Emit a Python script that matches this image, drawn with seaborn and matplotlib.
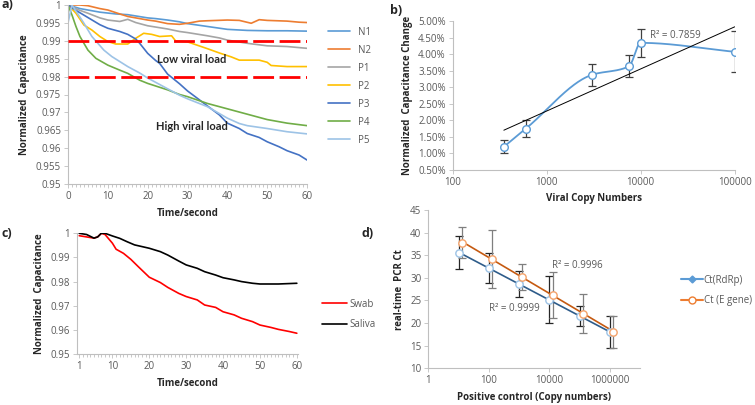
import numpy as np
import pandas as pd
import matplotlib
matplotlib.use("Agg")
import matplotlib.pyplot as plt
from matplotlib.ticker import FuncFormatter, MultipleLocator, NullLocator
from matplotlib.lines import Line2D
import seaborn as sns

# --- a) normalized capacitance, negatives vs positives ---
names_a = ["N1", "N2", "P1", "P2", "P3", "P4", "P5"]
colors_a = ["#5B9BD5", "#ED7D31", "#A5A5A5", "#FFC000", "#4472C4", "#70AD47", "#9DC3E6"]

n1_t = [0, 3, 8, 12, 15, 20, 22, 25, 28, 30, 35, 40, 45, 50, 55, 60]
n1_v = [1.0, 0.999, 0.998, 0.9975, 0.9973, 0.9964, 0.9962, 0.9958, 0.9953, 0.9948, 0.994, 0.9932, 0.9929, 0.9928, 0.9928, 0.9927]
n2_t = [0, 3, 5, 8, 10, 13, 15, 18, 20, 22, 25, 28, 30, 33, 35, 40, 43, 46, 48, 50, 55, 58, 60]
n2_v = [1.0, 1.0, 0.9998, 0.999, 0.9986, 0.9975, 0.9968, 0.9962, 0.9958, 0.9955, 0.9948, 0.9946, 0.9949, 0.9955, 0.9956, 0.9958, 0.9957, 0.9949, 0.9959, 0.9957, 0.9955, 0.9952, 0.9951]
p1_t = [0, 3, 5, 8, 10, 13, 15, 17, 20, 25, 28, 30, 35, 38, 40, 45, 50, 55, 60]
p1_v = [1.0, 0.9985, 0.9977, 0.9964, 0.9958, 0.9954, 0.996, 0.9951, 0.9942, 0.9933, 0.9926, 0.9923, 0.9914, 0.9908, 0.9902, 0.9893, 0.9886, 0.9884, 0.9879]
p2_t = [0, 2, 4, 6, 8, 10, 12, 15, 17, 19, 21, 23, 26, 27, 30, 35, 38, 41, 43, 45, 48, 50, 51, 55, 60]
p2_v = [1.0, 0.9977, 0.9944, 0.993, 0.9912, 0.9898, 0.9891, 0.9891, 0.9907, 0.9921, 0.9918, 0.9912, 0.9914, 0.99, 0.9897, 0.9878, 0.9866, 0.9855, 0.9846, 0.9846, 0.9846, 0.984, 0.9831, 0.9828, 0.9828]
p3_t = [0, 2, 5, 8, 10, 13, 15, 17, 18, 20, 22, 23, 25, 28, 30, 33, 35, 38, 40, 43, 45, 48, 50, 53, 55, 58, 60]
p3_v = [1.0, 0.9985, 0.9965, 0.9945, 0.9935, 0.9926, 0.9918, 0.9905, 0.9893, 0.9865, 0.9845, 0.9837, 0.9807, 0.978, 0.976, 0.9735, 0.9718, 0.9693, 0.967, 0.9655, 0.9641, 0.963, 0.9618, 0.9604, 0.9593, 0.9581, 0.9567]
p4_t = [0, 1, 2, 3, 5, 7, 10, 13, 15, 18, 20, 25, 28, 30, 35, 40, 45, 50, 55, 60]
p4_v = [1.0, 0.9972, 0.994, 0.9912, 0.9874, 0.9851, 0.9832, 0.9818, 0.9809, 0.979, 0.9781, 0.9763, 0.975, 0.9744, 0.9725, 0.971, 0.9695, 0.968, 0.967, 0.9663]
p5_t = [0, 1, 4, 6, 9, 11, 13, 15, 18, 20, 25, 28, 30, 35, 40, 43, 45, 50, 55, 60]
p5_v = [0.995, 1.0, 0.9949, 0.9912, 0.9874, 0.9856, 0.9842, 0.9828, 0.981, 0.9796, 0.9766, 0.9748, 0.9738, 0.9716, 0.9684, 0.9669, 0.9663, 0.9655, 0.9646, 0.964]
thresholds_a = [0.99, 0.98]

# --- b) capacitance change vs viral copies ---
b_copies = [350, 600, 3000, 7500, 10000, 100000]
b_change = [1.2, 1.75, 3.37, 3.63, 4.34, 4.07]
b_err = [0.2, 0.25, 0.32, 0.33, 0.42, 0.62]

# --- c) swab vs saliva ---
swab_t = [1, 3, 5, 6, 7, 8, 10, 11, 13, 15, 17, 20, 23, 25, 28, 30, 33, 35, 38, 40, 43, 45, 48, 50, 53, 55, 58, 60]
swab_v = [0.999, 0.9985, 0.998, 0.9985, 1.0, 0.9995, 0.9959, 0.9934, 0.9917, 0.9892, 0.9862, 0.9818, 0.9796, 0.9776, 0.9751, 0.9738, 0.9724, 0.9703, 0.9693, 0.9675, 0.9662, 0.9648, 0.9634, 0.962, 0.961, 0.9602, 0.9593, 0.9586]
saliva_t = [1, 3, 5, 6, 7, 8, 10, 12, 14, 16, 20, 23, 25, 28, 30, 33, 35, 38, 40, 43, 45, 48, 50, 55, 60]
saliva_v = [1.0, 0.9995, 0.998, 0.9985, 1.0, 1.0, 0.9989, 0.9979, 0.9965, 0.9952, 0.9938, 0.9924, 0.991, 0.9885, 0.9869, 0.9855, 0.9841, 0.9827, 0.9816, 0.9807, 0.98, 0.9793, 0.979, 0.979, 0.9793]

# --- d) PCR Ct vs positive control ---
d_copies_rdrp = [10, 100, 1000, 10000, 100000, 1000000]
d_ct_rdrp = [35.6, 32.2, 28.6, 25.2, 21.6, 18.0]
d_err_rdrp = [3.7, 3.4, 2.9, 5.1, 2.2, 3.6]
d_copies_egene = [13, 130, 1300, 13000, 130000, 1300000]
d_ct_egene = [37.8, 34.2, 30.2, 26.2, 22.1, 18.1]
d_err_egene = [3.45, 6.4, 2.8, 5.0, 4.3, 3.55]

AX_COLOR = "#BFBFBF"
TICK_COLOR = "#595959"
LABEL_COLOR = "#262626"


def excel_axes(ax):
    for s in ["top", "right"]:
        ax.spines[s].set_visible(False)
    for s in ["left", "bottom"]:
        ax.spines[s].set_color(AX_COLOR)
        ax.spines[s].set_linewidth(0.8)
    ax.tick_params(axis="both", which="both", direction="out", color=AX_COLOR,
                   labelcolor=TICK_COLOR, labelsize=7, length=3, width=0.6,
                   left=True, bottom=True, pad=2)
    ax.tick_params(which="minor", length=2.5)
    ax.grid(False)


def pchip_curve(xk, yk, n=300):
    # smooth line like Excel's "smoothed line" option
    xk = np.asarray(xk, float)
    yk = np.asarray(yk, float)
    h = np.diff(xk)
    d = np.diff(yk) / h
    m = np.zeros_like(yk)
    m[0], m[-1] = d[0], d[-1]
    for i in range(1, len(xk) - 1):
        if d[i - 1] * d[i] > 0:
            w1 = 2 * h[i] + h[i - 1]
            w2 = h[i] + 2 * h[i - 1]
            m[i] = (w1 + w2) / (w1 / d[i - 1] + w2 / d[i])
    xs = np.linspace(xk[0], xk[-1], n)
    idx = np.clip(np.searchsorted(xk, xs) - 1, 0, len(h) - 1)
    s = (xs - xk[idx]) / h[idx]
    h00 = 2 * s**3 - 3 * s**2 + 1
    h10 = s**3 - 2 * s**2 + s
    h01 = -2 * s**3 + 3 * s**2
    h11 = s**3 - s**2
    ys = h00 * yk[idx] + h10 * h[idx] * m[idx] + h01 * yk[idx + 1] + h11 * h[idx] * m[idx + 1]
    return xs, ys


sns.set_theme(style="white")
plt.rcParams["font.family"] = ["Open Sans", "DejaVu Sans"]
plt.rcParams["font.size"] = 7

fig = plt.figure(figsize=(7.55, 4.05), dpi=100)
W, H = 755, 405

# ---------- a) ----------
ax_a = fig.add_axes([68 / W, 1 - 184 / H, 239 / W, 179 / H])
series_a = [(n1_t, n1_v), (n2_t, n2_v), (p1_t, p1_v), (p2_t, p2_v),
            (p3_t, p3_v), (p4_t, p4_v), (p5_t, p5_v)]
df_a = pd.concat([pd.DataFrame({"t": t, "v": v, "s": name})
                  for name, (t, v) in zip(names_a, series_a)], ignore_index=True)
sns.lineplot(data=df_a, x="t", y="v", hue="s", hue_order=names_a, palette=colors_a,
             estimator=None, linewidth=1.2, ax=ax_a, legend=False)
for lvl in thresholds_a:
    ax_a.axhline(lvl, color="#FF0000", lw=2, ls=(0, (7.5, 2)), zorder=5)
ax_a.text(31, 0.9848, "Low viral load", ha="center", va="center", fontsize=8,
          family=["Lato", "DejaVu Sans"], fontweight="bold", color=LABEL_COLOR)
ax_a.text(31, 0.966, "High viral load", ha="center", va="center", fontsize=8,
          family=["Lato", "DejaVu Sans"], fontweight="bold", color=LABEL_COLOR)
ax_a.set_xlim(0, 60)
ax_a.set_ylim(0.95, 1.0)
ax_a.set_yticks(np.round(np.arange(0.95, 1.0001, 0.005), 3))
ax_a.yaxis.set_major_formatter(FuncFormatter(lambda v, _: f"{v:g}"))
ax_a.xaxis.set_major_locator(MultipleLocator(10))
ax_a.xaxis.set_minor_locator(MultipleLocator(1))
excel_axes(ax_a)
ax_a.set_xlabel("Time/second", fontsize=7, fontweight="bold", color=LABEL_COLOR)
ax_a.set_ylabel("Normalized  Capacitance", fontsize=7, fontweight="bold", color=LABEL_COLOR)
handles_a = [Line2D([], [], color=c, lw=1.2) for c in colors_a]
fig.legend(handles_a, names_a, loc="upper left", bbox_to_anchor=(319 / W, 1 - 18 / H),
           frameon=False, fontsize=7, handlelength=2.3, handletextpad=0.8,
           labelspacing=0.72, labelcolor=TICK_COLOR)

# ---------- b) ----------
ax_b = fig.add_axes([452.7 / W, 1 - 170 / H, 282 / W, 149 / H])
ax_b.set_xscale("log")
ax_b.errorbar(b_copies, b_change, yerr=b_err, fmt="none", ecolor="#404040",
              elinewidth=0.9, capsize=3, capthick=0.9, zorder=2)
xs_b, ys_b = pchip_curve(np.log10(b_copies), b_change)
ax_b.plot(10**xs_b, ys_b, color="#5B9BD5", lw=1.3, zorder=3)
coef_b = np.polyfit(np.log10(b_copies), b_change, 1)
xt_b = np.array([min(b_copies), max(b_copies)])
ax_b.plot(xt_b, np.polyval(coef_b, np.log10(xt_b)), color="black", lw=0.7, zorder=4)
sns.scatterplot(x=b_copies, y=b_change, ax=ax_b, marker="o", s=30, color="white",
                edgecolor="#5B9BD5", linewidth=1, zorder=5)
ax_b.text(12500, 4.55, "R² = 0.7859", ha="left", va="center", fontsize=7, color=TICK_COLOR)
ax_b.set_xlim(100, 100000)
ax_b.set_ylim(0.5, 5.0)
ax_b.set_yticks(np.arange(0.5, 5.01, 0.5))
ax_b.yaxis.set_major_formatter(FuncFormatter(lambda v, _: f"{v:.2f}%"))
ax_b.set_xticks([100, 1000, 10000, 100000])
ax_b.xaxis.set_major_formatter(FuncFormatter(lambda v, _: f"{v:.0f}"))
ax_b.xaxis.set_minor_locator(NullLocator())
excel_axes(ax_b)
ax_b.set_xlabel("Viral Copy Numbers", fontsize=7, fontweight="bold", color=LABEL_COLOR)
ax_b.set_ylabel("Normalized  Capacitance Change", fontsize=7, fontweight="bold", color=LABEL_COLOR)

# ---------- c) ----------
ax_c = fig.add_axes([77 / W, 1 - 354 / H, 221.3 / W, 120.7 / H])
df_c = pd.concat([pd.DataFrame({"t": swab_t, "v": swab_v, "s": "Swab"}),
                  pd.DataFrame({"t": saliva_t, "v": saliva_v, "s": "Saliva"})], ignore_index=True)
palette_c = {"Swab": "#FF0000", "Saliva": "#000000"}
sns.lineplot(data=df_c, x="t", y="v", hue="s", palette=palette_c, estimator=None,
             linewidth=1.2, ax=ax_c, legend=False)
ax_c.set_xlim(0.4, 60.4)
ax_c.set_ylim(0.95, 1.0)
ax_c.set_xticks([1, 10, 20, 30, 40, 50, 60])
ax_c.xaxis.set_minor_locator(MultipleLocator(1))
ax_c.set_yticks(np.round(np.arange(0.95, 1.0001, 0.01), 2))
ax_c.yaxis.set_major_formatter(FuncFormatter(lambda v, _: f"{v:g}"))
excel_axes(ax_c)
ax_c.set_xlabel("Time/second", fontsize=7, fontweight="bold", color=LABEL_COLOR)
ax_c.set_ylabel("Normalized  Capacitance", fontsize=7, fontweight="bold", color=LABEL_COLOR)
handles_c = [Line2D([], [], color=palette_c[k], lw=1.2) for k in ["Swab", "Saliva"]]
fig.legend(handles_c, ["Swab", "Saliva"], loc="upper left", bbox_to_anchor=(313 / W, 1 - 290 / H),
           frameon=False, fontsize=7, handlelength=2.6, handletextpad=0.2,
           labelspacing=1.0, labelcolor=TICK_COLOR)

# ---------- d) ----------
ax_d = fig.add_axes([428.3 / W, 1 - 368.3 / H, 211.7 / W, 158.3 / H])
ax_d.set_xscale("log")
ax_d.errorbar(d_copies_rdrp, d_ct_rdrp, yerr=d_err_rdrp, fmt="none", ecolor="#262626",
              elinewidth=0.9, capsize=3, capthick=0.9, zorder=2)
ax_d.errorbar(d_copies_egene, d_ct_egene, yerr=d_err_egene, fmt="none", ecolor="#7F7F7F",
              elinewidth=0.9, capsize=3, capthick=0.9, zorder=2)
for xs, ys, col in [(d_copies_rdrp, d_ct_rdrp, "#2E5C8A"), (d_copies_egene, d_ct_egene, "#C55A11")]:
    coef = np.polyfit(np.log10(xs), ys, 1)
    xt = np.array([min(xs), max(xs)])
    ax_d.plot(xt, np.polyval(coef, np.log10(xt)), color=col, lw=1.2, zorder=3)
sns.scatterplot(x=d_copies_rdrp, y=d_ct_rdrp, ax=ax_d, marker="o", s=28, color="white",
                edgecolor="#9DC3E6", linewidth=1, zorder=4)
sns.scatterplot(x=d_copies_egene, y=d_ct_egene, ax=ax_d, marker="o", s=28, color="white",
                edgecolor="#F4A26A", linewidth=1, zorder=4)
ax_d.text(12000, 32.8, "R² = 0.9996", ha="left", va="center", fontsize=7, color=TICK_COLOR)
ax_d.text(105, 23.3, "R² = 0.9999", ha="left", va="center", fontsize=7, color=TICK_COLOR)
ax_d.set_xlim(1, 1e7)
ax_d.set_ylim(10, 45)
ax_d.set_yticks(np.arange(10, 46, 5))
ax_d.set_xticks([1, 100, 10000, 1000000])
ax_d.xaxis.set_major_formatter(FuncFormatter(lambda v, _: f"{v:.0f}"))
ax_d.xaxis.set_minor_locator(NullLocator())
excel_axes(ax_d)
ax_d.set_xlabel("Positive control (Copy numbers)", fontsize=7, fontweight="bold", color=LABEL_COLOR)
ax_d.set_ylabel("real-time  PCR Ct", fontsize=7, fontweight="bold", color=LABEL_COLOR)
handles_d = [Line2D([], [], color="#5B9BD5", lw=1.5, marker="D", ms=3.5,
                    mfc="#5B9BD5", mec="#5B9BD5"),
             Line2D([], [], color="#ED7D31", lw=1.5, marker="o", ms=5,
                    mfc="white", mec="#ED7D31")]
fig.legend(handles_d, ["Ct(RdRp)", "Ct (E gene)"], loc="upper left",
           bbox_to_anchor=(672 / W, 1 - 266 / H), frameon=False, fontsize=7,
           handlelength=2.3, handletextpad=0.05, labelspacing=1.0, labelcolor=TICK_COLOR)

# panel letters
for txt, x, y in [("a)", 1, 5), ("b)", 390, 10), ("c)", 2, 234), ("d)", 362, 234)]:
    fig.text(x / W, 1 - y / H, txt, fontsize=9, fontweight="bold", color=LABEL_COLOR,
             ha="left", va="center")

fig.savefig("out.png", dpi=100)
